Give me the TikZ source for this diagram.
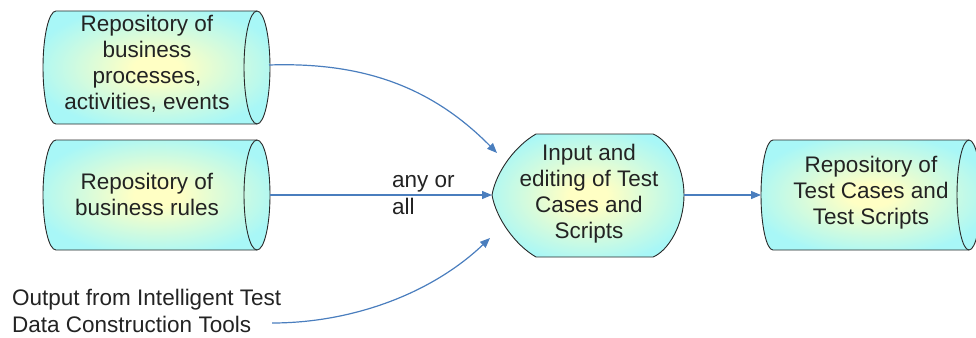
\documentclass[tikz,border=0pt]{standalone}
\usepackage{fontspec}
\setmainfont{Liberation Sans}
\usetikzlibrary{arrows.meta}

\definecolor{flowblue}{RGB}{74,126,190}
\definecolor{glowin}{RGB}{255,255,196}
\definecolor{glowout}{RGB}{168,247,247}
\definecolor{rim}{RGB}{40,40,40}
\definecolor{ink}{RGB}{35,35,35}

% soft yellow centre fading into cyan
\pgfdeclareradialshading{glow}{\pgfpoint{0bp}{0bp}}{%
  color(0bp)=(glowin); color(5bp)=(glowin); color(28bp)=(glowout); color(50bp)=(glowout)}

\tikzset{
  store/.style={draw=rim, line width=0.9pt, shading=glow},
  rimline/.style={draw=rim, line width=0.9pt},
  label/.style={text=ink, font=\fontsize{22.5}{26}\selectfont, align=center, inner sep=0pt},
  plain/.style={text=ink, font=\fontsize{22.5}{27}\selectfont, align=left, inner sep=0pt, anchor=west},
  flow/.style={draw=flowblue, line width=1.2pt, -{Triangle[length=10pt,width=8pt]}},
}

% horizontal drum: #1 = left x, #2 = right x, #3 = top y, #4 = bottom y, #5 = end radius
\newcommand\drumshape[5]{%
  \pgfmathsetmacro\drumry{(#4-#3)/2}%
  \path[store] (#1,#3) -- (#2,#3)
    arc[start angle=90, end angle=-90, x radius=#5pt, y radius=\drumry pt]
    -- (#1,#4)
    arc[start angle=270, end angle=90, x radius=#5pt, y radius=\drumry pt] -- cycle;
  \draw[rimline] (#2,#3)
    arc[start angle=90, end angle=270, x radius=#5pt, y radius=\drumry pt];
}

\begin{document}
\begin{tikzpicture}[x=1pt, y=-1pt]
  \useasboundingbox (0,0) rectangle (976,337);

  % storage drums
  \drumshape{56}{257}{11}{124}{13}
  \drumshape{56}{257}{140}{250}{13}
  \drumshape{773}{969}{140}{250}{12}

  % display-shaped editing step
  \path[store] (492,195) .. controls (496,172) and (515,146) .. (536,134)
    -- (653,134) .. controls (668,140) and (684,165) .. (684,195)
    .. controls (684,225) and (668,251) .. (653,257)
    -- (536,257) .. controls (515,245) and (496,218) .. cycle;

  % texts
  \node[label] (procs) at (147,64) {Repository of\\business\\processes,\\activities, events};
  \node[label] (rules) at (147,194) {Repository of\\business rules};
  \node[label] (edit) at (589,194) {Input and\\editing of Test\\Cases and\\Scripts};
  \node[label] (cases) at (871,193) {Repository of\\Test Cases and\\Test Scripts};
  \node[plain] (itdc) at (12,311) {Output from Intelligent Test\\Data Construction Tools};
  \node[plain] (anyall) at (392,195) {any or\\all};

  % connector end points on the shape outlines
  \coordinate (procs-out) at (269,65);
  \coordinate (rules-out) at (270,195);
  \coordinate (itdc-out) at (272,323);
  \coordinate (edit-top) at (497,153);
  \coordinate (edit-tip) at (492,195);
  \coordinate (edit-bot) at (490,238);
  \coordinate (edit-out) at (684,195);
  \coordinate (cases-in) at (761,195);

  % connectors
  \draw[flow] (procs-out) .. controls (360,62) and (430,85) .. (edit-top);
  \draw[flow] (rules-out) -- (edit-tip);
  \draw[flow] (itdc-out) .. controls (350,323) and (430,295) .. (edit-bot);
  \draw[flow] (edit-out) -- (cases-in);
\end{tikzpicture}
\end{document}
